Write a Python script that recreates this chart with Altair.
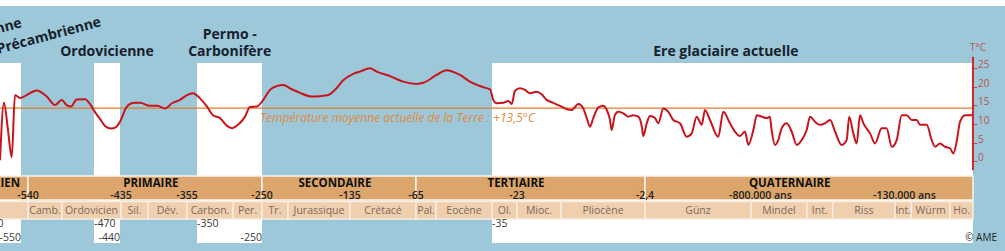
import altair as alt
import numpy as np
import pandas as pd

# ---------------- data ----------------
# The original uses a non-linear (piecewise) time axis in millions of years (Ma)
SCALE_T = [-600, -550, -540, -500, -470, -440, -435, -410, -355, -350, -295, -250,
           -205, -135, -65, -53, -35, -23, -5.3, -2.4, -0.8, -0.13, 0]
SCALE_PX = [-18, 21, 28, 62, 94, 120, 121, 148, 187, 197, 233, 262,
            288, 350, 416, 436, 492, 517, 561, 645, 751, 895, 973]

curve_t = [
    -576.9, -571.8, -566.7, -561.9, -557.7, -551.3, -541.9,
    -529.8, -518.0, -508.2, -500.4,
    -495.6, -491.6, -486.2, -478.4, -473.8,
    -468.8, -463.1, -457.3, -450.4, -444.6, -440,
    -430.4, -426.7, -422.0, -417.4,
    -407.2, -397.3, -386.0, -376.2, -364.9, -355,
    -352,
    -345.4, -334.7, -325.6, -314.9, -304.2, -296.5,
    -287.2, -276.4, -268.6, -258.2,
    -247.8, -236.2, -224.6, -213.1,
    -202.7, -191.5, -178.2, -168.9, -159.5, -151.9, -142.6,
    -131.5, -124.4, -113.8, -106.7, -92.6, -78.5,
    -64.6, -60.6,
    -52.8, -49.6, -45.3, -42.1, -37.8, -35.6,
    -34.4, -32.7, -29.6, -27.2, -25.5, -24.0,
    -21.8, -19.8, -17.8, -15.1, -13.1, -11.1, -8.4, -5.7,
    -5.10, -4.93, -4.70, -4.53, -4.41, -4.30, -4.185, -4.01, -3.84, -3.72,
    -3.61, -3.55, -3.44, -3.32, -3.15, -2.98, -2.80, -2.63, -2.51, -2.46,
    -2.374, -2.325, -2.249, -2.199, -2.124, -2.048, -1.973, -1.872, -1.771, -1.695,
    -1.620, -1.544, -1.494, -1.419, -1.294, -1.218, -1.117, -1.042, -0.966, -0.891, -0.841,
    -0.789, -0.773, -0.750, -0.727, -0.712, -0.704, -0.688, -0.673, -0.657, -0.634,
    -0.611, -0.587, -0.564, -0.541, -0.525, -0.502, -0.479, -0.456, -0.432, -0.409,
    -0.378, -0.355, -0.343, -0.324, -0.308, -0.293, -0.277, -0.246, -0.223, -0.192,
    -0.169, -0.145,
    -0.1272, -0.1188, -0.1105, -0.1022, -0.0938, -0.0883, -0.0772, -0.0688, -0.0633,
    -0.055, -0.0467, -0.0383, -0.0328, -0.0272, -0.0217, -0.0133, -0.005, 0,
]
curve_temp = [
    -0.5, 14.9, 7.6, 0.3, 17.0, 16.2, 17.0,
    18.2, 16.6, 14.3, 15.7,
    14.3, 13.9, 15.8, 15.9, 14.6,
    12.4, 10.6, 8.7, 8.0, 8.4, 9.8,
    13.5, 14.6, 14.9, 14.9,
    14.1, 14.1, 13.4, 14.8, 15.7, 17.0,
    17.5,
    16.1, 13.9, 11.6, 10.8, 8.7, 8.1,
    9.0, 11.2, 13.8, 13.9,
    15.7, 18.4, 19.4, 19.7,
    18.8, 17.6, 16.6, 16.7, 17.0, 18.4, 21.0,
    22.7, 23.3, 24.2, 23.3, 22.1, 20.6,
    20.0, 20.3,
    22.4, 23.7, 22.4, 20.6, 19.1, 18.5,
    15.7, 14.8, 14.9, 15.4, 14.6, 18.1,
    18.8, 18.4, 17.5, 17.9, 17.2, 15.7, 14.9, 14.1,
    13.2, 13.0, 14.6, 13.4, 10.8, 8.5, 10.8, 13.7, 14.1, 13.0,
    10.4, 7.6, 11.6, 12.5, 12.1, 11.2, 11.6, 11.2, 8.5, 6.0,
    9.4, 11.4, 10.8, 9.4, 13.4, 12.5, 10.3, 9.4, 5.8, 6.7,
    11.2, 9.0, 13.0, 10.3, 5.8, 12.5, 9.4, 7.2, 6.0, 7.2, 3.6,
    7.6, 11.6, 11.2, 10.8, 11.2, 7.6, 3.6, 4.9, 8.1, 9.4,
    7.2, 3.6, 4.9, 7.6, 11.2, 9.8, 9.0, 9.4, 10.3, 7.2,
    3.6, 4.9, 11.2, 6.7, 4.0, 11.6, 9.4, 6.7, 4.0, 8.1,
    8.1, 3.1,
    4.9, 11.6, 11.6, 10.3, 10.3, 9.0, 9.0, 4.9, 3.1,
    4.0, 3.1, 2.7, 1.3, 4.5, 9.8, 11.6, 11.6, 11.6,
]

# glaciations (white boxes)
glac_start = [-600, -470, -350, -35]
glac_end = [-550, -440, -250, 0]
glac_start_lbl = ["-600", "-470", "-350", "-35"]
glac_end_lbl = ["-550", "-440", "-250", ""]

# eras
era_names = ["PRÉCAMBRIEN", "PRIMAIRE", "SECONDAIRE", "TERTIAIRE", "QUATERNAIRE"]
era_start = [-600, -540, -250, -65, -2.4]
era_end = [-540, -250, -65, -2.4, 0]
era_label_t = [-604, -406, -152, -23.5, -0.62]

bound_lbl = ["-540", "-435", "-355", "-250", "-135", "-65", "-23", "-2,4"]
bound_t = [-540, -435, -355, -250, -135, -65, -23, -2.4]
quat_lbl = ["-800.000 ans", "-130.000 ans"]
quat_t = [-0.8, -0.13]

# periods
sub_names = ["", "Camb.", "Ordovicien", "Sil.", "Dév.", "Carbon.", "Per.", "Tr.",
             "Jurassique", "Crétacé", "Pal.", "Eocène", "Ol.", "Mioc.", "Pliocène",
             "Günz", "Mindel", "Int.", "Riss", "Int.", "Würm", "Ho."]
sub_start = [-600, -540, -500, -435, -410, -355, -295, -250, -205, -135, -65, -53,
             -35, -23, -5.3, -2.4, -0.8, -0.54, -0.42, -0.13, -0.103, -0.038]
sub_end = sub_start[1:] + [0]

# glaciation titles
titles = ["Ordovicienne", "Permo -", "Carbonifère", "Ere glaciaire actuelle"]
titles_t = [-455, -300, -300, -1.18]
titles_row = [0, 1, 0, 0]

ref_temp = [13.5]
ref_span = [-600, 0]
ref_text = "Température moyenne actuelle de la Terre : +13,5°C"
axis_ticks = [0, 5, 10, 15, 20, 25]
axis_span = [-3.2, 27.3]

# ---------------- styling ----------------
W, H = 1005, 251
FONT = "Open Sans"
BLUE = "#9dc8da"
ERA = "#dba56b"
SUB = "#efcfae"
TITLE = "#17212b"
RED = "#c8141c"
ORANGE = "#e77a2e"
AXLBL = "#b5574b"

xs = alt.Scale(domain=SCALE_T, range=SCALE_PX, nice=False, zero=False)
ys = alt.Scale(domain=[-24.92, 42.55], nice=False, zero=False)


def X(f):
    return alt.X(f, type="quantitative", scale=xs, axis=None)


def Y(f):
    return alt.Y(f, type="quantitative", scale=ys, axis=None)


def centre_t(s, e):
    # time whose position lies halfway (on screen) between s and e
    ps = np.interp(s, SCALE_T, SCALE_PX)
    pe = np.interp(e, SCALE_T, SCALE_PX)
    return float(np.interp((ps + pe) / 2, SCALE_PX, SCALE_T))


one = pd.DataFrame({"a": [0]})
glac = pd.DataFrame({"start": glac_start, "end": glac_end,
                     "slbl": glac_start_lbl, "elbl": glac_end_lbl})
eras = pd.DataFrame({"start": era_start, "end": era_end, "name": era_names, "t": era_label_t})
bounds = pd.DataFrame({"t": bound_t, "lbl": bound_lbl})
quat = pd.DataFrame({"t": quat_t, "lbl": quat_lbl})
subs = pd.DataFrame({"start": sub_start, "end": sub_end, "name": sub_names})
subs["mid"] = [centre_t(s, e) for s, e in zip(sub_start, sub_end)]
tit = pd.DataFrame({"t": titles_t, "name": titles, "row": titles_row})
curve = pd.DataFrame({"t": curve_t, "T": curve_temp})
ref = pd.DataFrame({"x0": [ref_span[0]], "x1": [ref_span[1]], "T": ref_temp, "txt": [ref_text]})
axr = pd.DataFrame({"t": [0], "y0": [axis_span[0]], "y1": [axis_span[1]]})
ticks = pd.DataFrame({"t": [0] * len(axis_ticks), "T": axis_ticks,
                      "lbl": [str(v) for v in axis_ticks]})

bg = alt.Chart(one).mark_rect(color=BLUE).encode(
    x=alt.value(0), x2=alt.value(W), y=alt.value(6), y2=alt.value(H))

boxes = alt.Chart(glac).mark_rect(color="white").encode(
    x=X("start"), x2="end", y=alt.value(63), y2=alt.value(243))

era_rect = alt.Chart(eras).mark_rect(color=ERA, stroke="#fbf3ea", strokeWidth=1.5).encode(
    x=X("start"), x2="end", y=alt.value(176), y2=alt.value(200))
sub_rect = alt.Chart(subs).mark_rect(color=SUB, stroke="#f9ece0", strokeWidth=1.5).encode(
    x=X("start"), x2="end", y=alt.value(201.5), y2=alt.value(219))

era_txt = alt.Chart(eras).mark_text(font=FONT, fontSize=11.5, fontWeight="bold", color="#111").encode(
    x=X("t"), y=alt.value(183.5), text="name:N")
bound_txt = alt.Chart(bounds).mark_text(font=FONT, fontSize=10.5, fontWeight=600, color="#222").encode(
    x=X("t"), y=alt.value(195.5), text="lbl:N")
quat_txt = alt.Chart(quat).mark_text(font=FONT, fontSize=10.5, fontWeight=600, color="#222",
                                     align="left", dx=-22).encode(
    x=X("t"), y=alt.value(195.5), text="lbl:N")
sub_txt = alt.Chart(subs).mark_text(font=FONT, fontSize=10.5, color="#7c6a5e").encode(
    x=X("mid"), y=alt.value(210.5), text="name:N")

row1 = alt.Chart(glac).mark_text(font=FONT, fontSize=10.5, color="#3a3a3a", align="left").encode(
    x=X("start"), y=alt.value(224), text="slbl:N")
row2 = alt.Chart(glac).mark_text(font=FONT, fontSize=10.5, color="#3a3a3a", align="right").encode(
    x=X("end"), y=alt.value(238), text="elbl:N")

tit_main = alt.Chart(tit[tit.row == 0]).mark_text(font=FONT, fontSize=14, fontWeight="bold", color=TITLE).encode(
    x=X("t"), y=alt.value(52), text="name:N")
tit_up = alt.Chart(tit[tit.row == 1]).mark_text(font=FONT, fontSize=14, fontWeight="bold", color=TITLE).encode(
    x=X("t"), y=alt.value(35), text="name:N")

pre = pd.DataFrame({"t": [-515.3], "name": ["Précambrienne"]})
pre1 = pd.DataFrame({"t": [-549.3], "name": ["Varangienne"]})
pre_txt = alt.Chart(pre).mark_text(font=FONT, fontSize=14, fontWeight="bold", color=TITLE, angle=345).encode(
    x=X("t"), y=alt.value(36), text="name:N")
pre1_txt = alt.Chart(pre1).mark_text(font=FONT, fontSize=14, fontWeight="bold", color=TITLE, angle=345,
                                     align="right").encode(
    x=X("t"), y=alt.value(23), text="name:N")

ref_line = alt.Chart(ref).mark_rule(color=ORANGE, strokeWidth=1.2).encode(
    x=X("x0"), x2="x1", y=Y("T"))
ref_txt = alt.Chart(ref).mark_text(font=FONT, fontSize=12, fontStyle="italic", color="#e08a3c",
                                   align="left", dy=10).encode(
    x=alt.X("t0:Q", scale=xs, axis=None), y=Y("T"), text="txt:N"
).transform_calculate(t0="-253")

line = alt.Chart(curve).mark_line(color=RED, strokeWidth=2, interpolate="monotone").encode(
    x=X("t"), y=Y("T"))

ax_rule = alt.Chart(axr).mark_rule(color="#d42828", strokeWidth=2).encode(
    x=X("t"), y=Y("y0"), y2="y1")
tick_marks = alt.Chart(ticks).mark_text(font=FONT, fontSize=10, color="#cc2020", align="left",
                                        dx=0, dy=-1, text="_").encode(
    x=X("t"), y=Y("T"))
tick_lbl = alt.Chart(ticks).mark_text(font=FONT, fontSize=10, color=AXLBL, align="left", dx=5).encode(
    x=X("t"), y=Y("T"), text="lbl:N")
ax_title = alt.Chart(one).mark_text(font=FONT, fontSize=10, color=AXLBL).encode(
    x=alt.value(978), y=alt.value(48), text=alt.value("T°C"))

copy = alt.Chart(one).mark_text(font=FONT, fontSize=10, color="#222", align="right").encode(
    x=alt.value(997), y=alt.value(238), text=alt.value("© AME"))

chart = alt.layer(
    bg, boxes, era_rect, sub_rect, era_txt, bound_txt, quat_txt, sub_txt, row1, row2,
    tit_main, tit_up, pre_txt, pre1_txt, ref_line, ref_txt, line, ax_rule,
    tick_marks, tick_lbl, ax_title, copy
).properties(
    width=W, height=H, autosize=alt.AutoSizeParams(type="none"), padding=0, background="white"
).configure_view(stroke=None)

chart.save("out.html", embed_options={"renderer": "svg", "actions": False})
